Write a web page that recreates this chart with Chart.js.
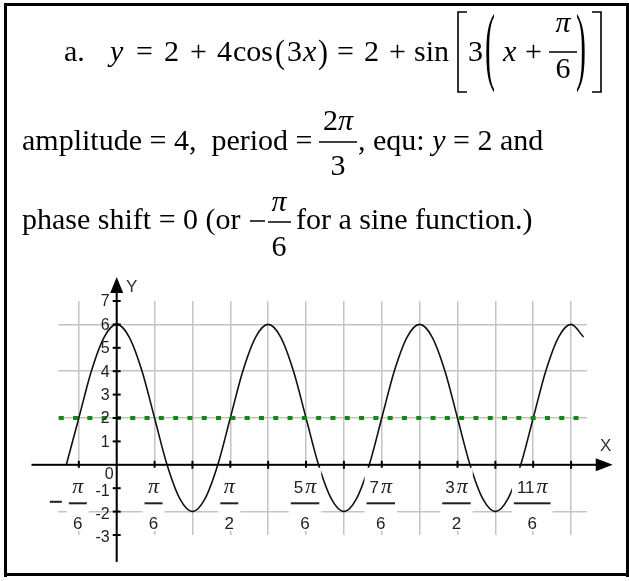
<!DOCTYPE html>
<html>
<head>
<meta charset="utf-8">
<script src="https://cdn.jsdelivr.net/npm/chart.js@4.4.0/dist/chart.umd.min.js"></script>
<style>
  html, body { margin: 0; padding: 0; background: #fff; }
  canvas { display: block; }
</style>
</head>
<body>
<canvas id="graph" width="629" height="581"></canvas>
<script>
// x is measured in sixths of pi: 1 unit = pi/6
const curveX = [-1.33, -1, -0.67, -0.33, 0, 0.33, 0.67, 1, 1.33, 1.67, 2, 2.33, 2.67,
  3, 3.33, 3.67, 4, 4.33, 4.67, 5, 5.33, 5.67, 6, 6.33, 6.67,
  7, 7.33, 7.67, 8, 8.33, 8.67, 9, 9.33, 9.67, 10, 10.33, 10.67,
  11, 11.33, 11.67, 12, 12.33];
const curveY = [0, 2, 4, 5.46, 6, 5.46, 4, 2, 0, -1.46, -2, -1.46, 0,
  2, 4, 5.46, 6, 5.46, 4, 2, 0, -1.46, -2, -1.46, 0,
  2, 4, 5.46, 6, 5.46, 4, 2, 0, -1.46, -2, -1.46, 0,
  2, 4, 5.46, 6, 5.46];

// equilibrium line y = 2
const equX = [-1.53, 12.24];
const equY = [2, 2];

const gridX = [-1, 0, 1, 2, 3, 4, 5, 6, 7, 8, 9, 10, 11, 12];
const gridY = [-2, 2, 4, 6];
const yTickValues = [-3, -2, -1, 1, 2, 3, 4, 5, 6, 7];
const yTickLabels = ['-3', '-2', '-1', '1', '2', '3', '4', '5', '6', '7'];

// x labels as fractions of pi
const fracValues = [-1, 1, 3, 5, 7, 9, 11];
const fracSign = ['−', '', '', '', '', '', ''];
const fracCoef = ['', '', '', '5', '7', '3', '11'];
const fracDen = ['6', '6', '2', '6', '6', '2', '6'];

const SERIF = '"Liberation Serif", "Times New Roman", serif';
const SANS = '"Liberation Sans", Arial, sans-serif';
const INK = '#222';

function put(ctx, s, x, y, italic) {
  ctx.font = (italic ? 'italic ' : '') + '30px ' + SERIF;
  ctx.fillText(s, x, y);
  return x + ctx.measureText(s).width;
}

function putMid(ctx, s, cx, y, italic) {
  ctx.font = (italic ? 'italic ' : '') + '30px ' + SERIF;
  ctx.fillText(s, cx - ctx.measureText(s).width / 2, y);
}

// tall bracket glyphs, stretched vertically only
function stretched(ctx, s, x, cy, sy) {
  ctx.save();
  ctx.font = '30px ' + SERIF;
  ctx.translate(x, cy);
  ctx.scale(1, sy);
  ctx.textBaseline = 'middle';
  ctx.fillText(s, 0, 0);
  ctx.restore();
}

function square(ctx, xv, xs, top, bot) {
  ctx.beginPath();
  ctx.moveTo(xs, top);
  ctx.lineTo(xv, top);
  ctx.lineTo(xv, bot);
  ctx.lineTo(xs, bot);
  ctx.stroke();
}

function hline(ctx, x1, x2, y, w) {
  ctx.fillRect(x1, y - w / 2, x2 - x1, w);
}

function drawHeader(ctx) {
  ctx.save();
  ctx.fillStyle = '#000';
  ctx.strokeStyle = '#000';
  ctx.textBaseline = 'alphabetic';

  // frame
  ctx.fillRect(4, 3, 3, 574);
  ctx.fillRect(4, 3, 625, 3);
  ctx.fillRect(626, 3, 3, 574);
  ctx.fillRect(4, 573, 625, 3);

  // line 1: y = 2 + 4cos(3x) = 2 + sin[3(x + pi/6)]
  let b = 61;
  put(ctx, 'a.', 64, b);
  put(ctx, 'y', 110, b, true);
  put(ctx, '=', 136, b);
  put(ctx, '2', 164, b);
  put(ctx, '+', 190, b);
  put(ctx, '4', 217, b);
  put(ctx, 'cos', 233, b);
  stretched(ctx, '(', 275, 54, 1.15);
  put(ctx, '3', 287, b);
  put(ctx, 'x', 303, b, true);
  stretched(ctx, ')', 318, 54, 1.15);
  put(ctx, '=', 337, b);
  put(ctx, '2', 364, b);
  put(ctx, '+', 389, b);
  put(ctx, 'sin', 414, b);
  ctx.lineWidth = 1.6;
  square(ctx, 458, 467, 12, 92);
  put(ctx, '3', 468, b);
  stretched(ctx, '(', 485, 51, 2.9);
  put(ctx, 'x', 503, b, true);
  put(ctx, '+', 525, b);
  putMid(ctx, 'π', 563, 32, true);
  hline(ctx, 549, 577, 52, 1.5);
  putMid(ctx, '6', 563, 78);
  stretched(ctx, ')', 576, 51, 2.9);
  square(ctx, 601, 592, 12, 92);

  // line 2
  b = 150;
  put(ctx, 'amplitude = 4,  period =', 22, b);
  ctx.font = '30px ' + SERIF;
  const w2 = ctx.measureText('2').width;
  ctx.font = 'italic 30px ' + SERIF;
  const wp = ctx.measureText('π').width;
  let nx = 338 - (w2 + wp) / 2;
  nx = put(ctx, '2', nx, 130);
  put(ctx, 'π', nx, 130, true);
  hline(ctx, 319, 357, 142, 1.5);
  putMid(ctx, '3', 338, 175);
  let px = put(ctx, ', equ: ', 358, b);
  px = put(ctx, 'y', px, b, true);
  put(ctx, ' = 2 and', px, b);

  // line 3
  b = 229;
  put(ctx, 'phase shift = 0 (or ', 22, b);
  hline(ctx, 250, 265, 221, 1.5);
  putMid(ctx, 'π', 279, 211, true);
  hline(ctx, 268, 291, 222, 1.5);
  putMid(ctx, '6', 279, 256);
  put(ctx, 'for a sine function.)', 296, b);
  ctx.restore();
}

const axesPlugin = {
  id: 'axesPlugin',
  afterDatasetsDraw(chart) {
    const { ctx, scales: { x, y } } = chart;
    const x0 = x.getPixelForValue(0);
    const y0 = y.getPixelForValue(0);
    ctx.save();
    ctx.fillStyle = '#000';
    ctx.strokeStyle = '#000';

    // x axis with arrow
    const xs = x.getPixelForValue(-2.25);
    const xe = x.getPixelForValue(13.1);
    ctx.fillRect(xs, y0 - 1, xe - 14 - xs, 2);
    ctx.beginPath();
    ctx.moveTo(xe, y0);
    ctx.lineTo(xe - 17, y0 - 6.5);
    ctx.lineTo(xe - 17, y0 + 6.5);
    ctx.closePath();
    ctx.fill();

    // y axis with arrow
    const ys = y.getPixelForValue(-4.15);
    const ye = y.getPixelForValue(8.03);
    ctx.fillRect(x0 - 1, ye + 14, 2, ys - ye - 14);
    ctx.beginPath();
    ctx.moveTo(x0, ye);
    ctx.lineTo(x0 - 6.5, ye + 16);
    ctx.lineTo(x0 + 6.5, ye + 16);
    ctx.closePath();
    ctx.fill();

    // tick marks
    gridX.forEach(v => {
      if (v === 0) return;
      ctx.fillRect(x.getPixelForValue(v) - 1, y0 - 4, 2, 8);
    });
    yTickValues.forEach(v => {
      ctx.fillRect(x0 - 4, y.getPixelForValue(v) - 1, 8, 2);
    });

    // y tick labels
    ctx.fillStyle = INK;
    ctx.font = '16px ' + SANS;
    ctx.textAlign = 'right';
    ctx.textBaseline = 'middle';
    yTickValues.forEach((v, i) => {
      ctx.fillText(yTickLabels[i], x0 - 7, y.getPixelForValue(v) + (v < 0 ? 3 : 1));
    });
    ctx.fillText('0', x0 - 3, y0 + 10);

    // axis names
    ctx.textAlign = 'center';
    ctx.font = '17px ' + SANS;
    ctx.fillStyle = '#333';
    ctx.fillText('Y', x0 + 15, ye + 10);
    ctx.fillText('X', xe - 7, y0 - 18);

    // x labels: fractions of pi on white boxes
    ctx.textBaseline = 'alphabetic';
    ctx.textAlign = 'left';
    fracValues.forEach((v, i) => {
      const cx = x.getPixelForValue(v) - 1;
      ctx.font = '17px ' + SANS;
      const cw = fracCoef[i] ? ctx.measureText(fracCoef[i]).width + 2 : 0;
      ctx.font = 'italic 22px ' + SERIF;
      const pw = ctx.measureText('π').width;
      const nw = cw + pw;
      const bw = Math.max(nw + 6, 18);

      ctx.fillStyle = '#fff';
      ctx.fillRect(cx - bw / 2 - 2, y0 + 3, bw + 4, 63);

      ctx.fillStyle = INK;
      let nx = cx - nw / 2;
      if (fracCoef[i]) {
        ctx.font = '17px ' + SANS;
        ctx.fillText(fracCoef[i], nx, y0 + 28);
        nx += cw;
      }
      ctx.font = 'italic 22px ' + SERIF;
      ctx.fillText('π', nx, y0 + 28);
      hline(ctx, cx - bw / 2, cx + bw / 2, y0 + 38.5, 2);
      ctx.font = '17px ' + SANS;
      ctx.textAlign = 'center';
      ctx.fillText(fracDen[i], cx, y0 + 64);
      ctx.textAlign = 'left';
      if (fracSign[i]) {
        hline(ctx, cx - bw / 2 - 19, cx - bw / 2 - 7, y0 + 37, 2);
      }
    });
    ctx.restore();
  },
  afterDraw(chart) {
    drawHeader(chart.ctx);
  }
};

new Chart(document.getElementById('graph'), {
  type: 'line',
  data: {
    datasets: [
      {
        data: equX.map((v, i) => ({ x: v, y: equY[i] })),
        borderColor: '#108a10',
        borderWidth: 4,
        borderDash: [5, 9.3],
        borderCapStyle: 'butt',
        pointRadius: 0,
        order: 0
      },
      {
        data: curveX.map((v, i) => ({ x: v, y: curveY[i] })),
        borderColor: '#111',
        borderWidth: 1.6,
        cubicInterpolationMode: 'monotone',
        pointRadius: 0,
        order: 1
      }
    ]
  },
  options: {
    responsive: false,
    animation: false,
    devicePixelRatio: 1,
    layout: { padding: { left: 58, right: 42, top: 301, bottom: 46 } },
    plugins: { legend: { display: false }, tooltip: { enabled: false } },
    scales: {
      x: {
        type: 'linear',
        min: -1.55,
        max: 12.42,
        afterBuildTicks: (scale) => { scale.ticks = gridX.map(v => ({ value: v })); },
        ticks: { display: false },
        border: { display: false },
        grid: { color: '#c4c4c4', lineWidth: 1.5, drawTicks: false }
      },
      y: {
        type: 'linear',
        min: -3,
        max: 7,
        afterBuildTicks: (scale) => { scale.ticks = gridY.map(v => ({ value: v })); },
        ticks: { display: false },
        border: { display: false },
        grid: { color: '#c4c4c4', lineWidth: 1.5, drawTicks: false }
      }
    }
  },
  plugins: [axesPlugin]
});
</script>
</body>
</html>
